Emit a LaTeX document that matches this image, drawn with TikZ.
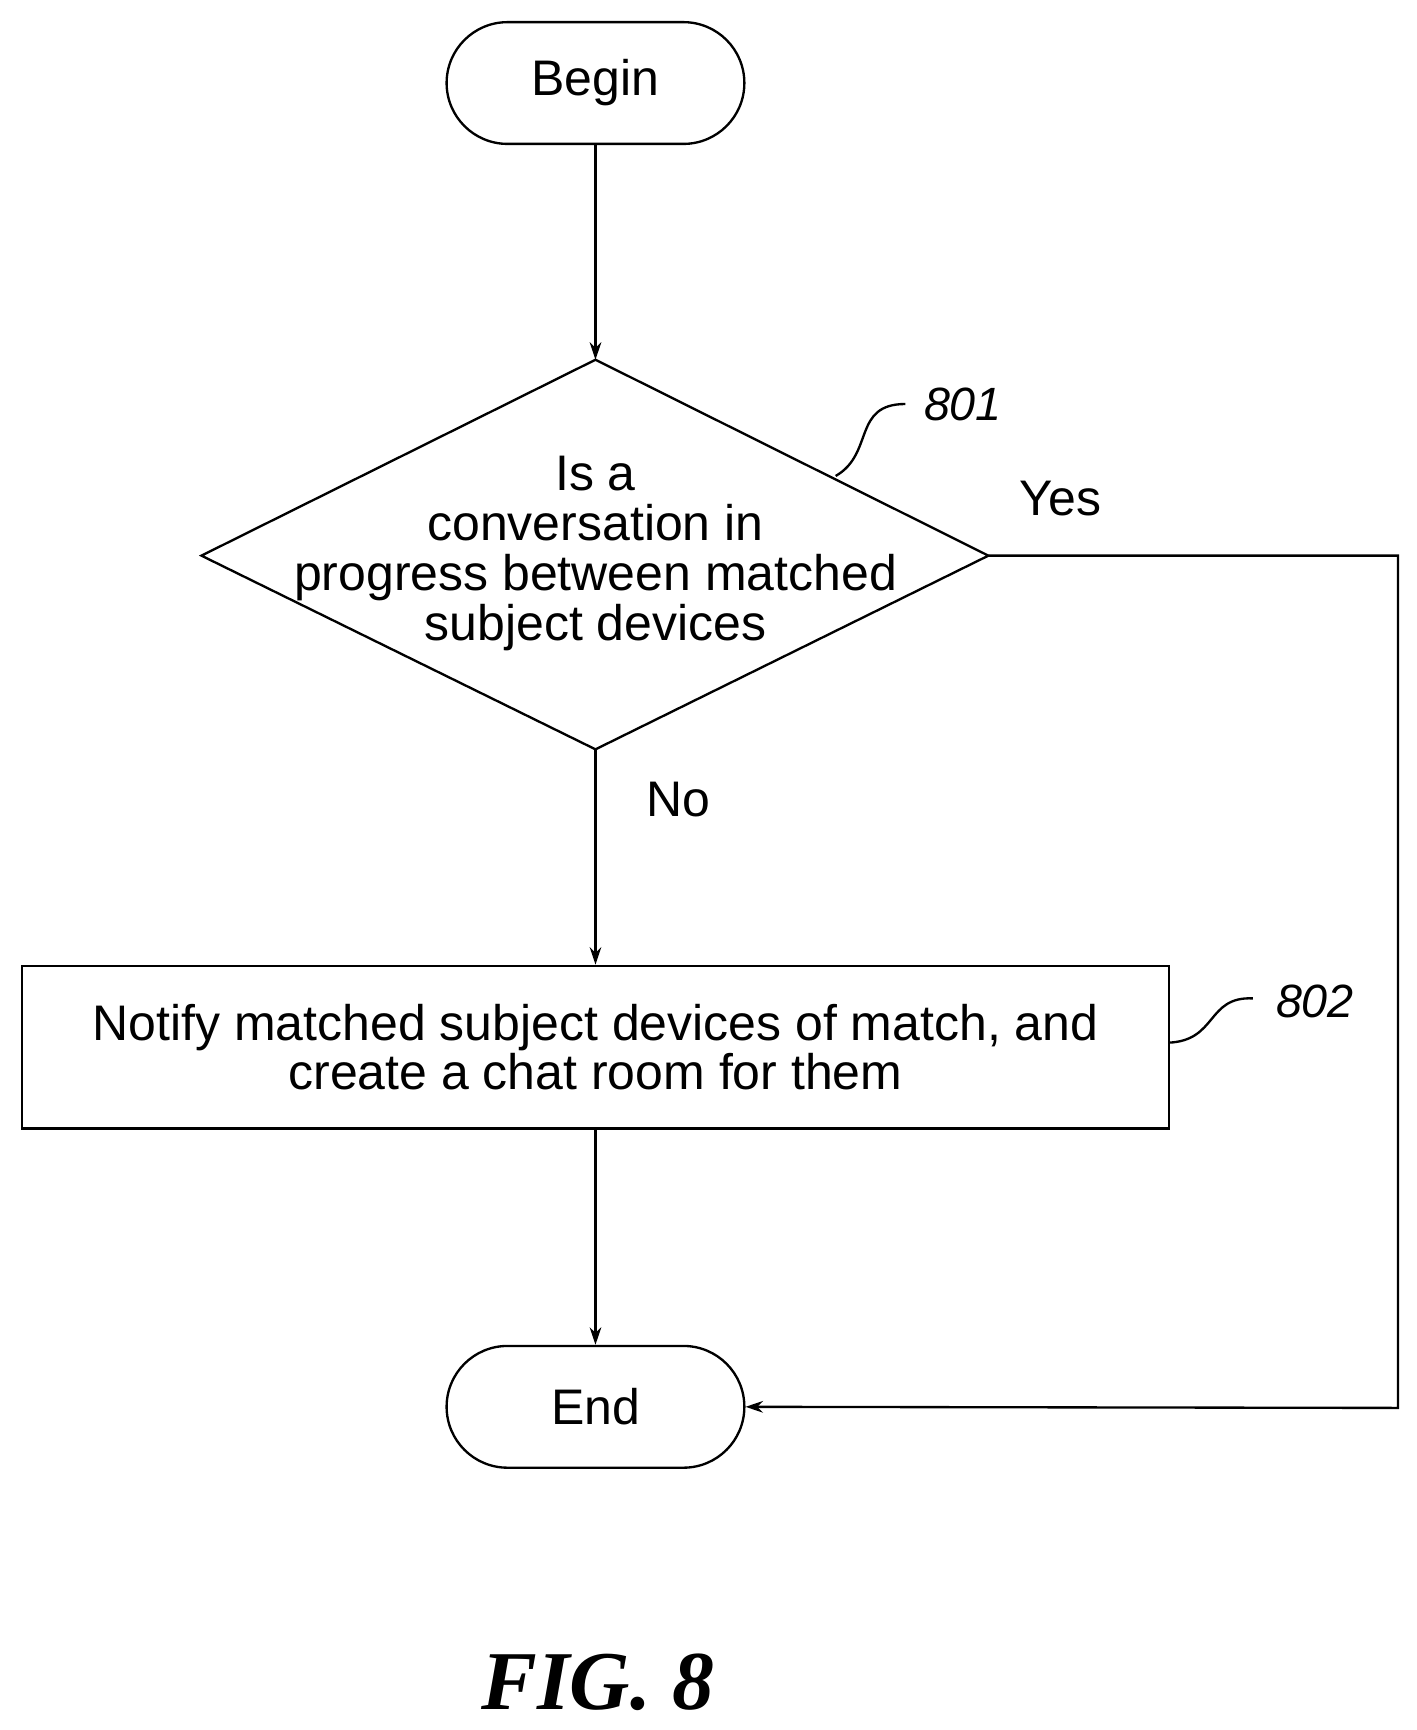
\documentclass[tikz,border=0pt]{standalone}
\usepackage{fontspec}
\setmainfont{Liberation Sans}
\newfontfamily\figfont{Liberation Serif}
\usetikzlibrary{arrows.meta}
\begin{document}
\begin{tikzpicture}[x=0.02cm,y=-0.02cm,
  every node/.style={font=\fontsize{25.7}{25.6}\selectfont, inner sep=0pt},
  term/.style={draw, line width=1.2pt, rounded corners=55*0.02cm, minimum width=269*0.02cm, minimum height=110*0.02cm},
  box/.style={draw, line width=1.2pt, minimum width=1036*0.02cm, minimum height=147*0.02cm, align=center},
  conn/.style={line width=1.2pt, -{Stealth[length=9pt,width=6pt]}},
  lead/.style={line width=1.2pt},
  ref/.style={font=\fontsize{24}{26}\selectfont\itshape}]
\useasboundingbox (0,0) rectangle (1280,1563);
\node[term] (begin) at (538,75) {Begin};
\coordinate (dt) at (538,325);
\coordinate (dl) at (182,502);
\coordinate (dr) at (893,502);
\coordinate (db) at (538,677);
\draw[line width=1.2pt] (dt) -- (dr) -- (db) -- (dl) -- cycle;
\node[align=center] (dtext) at (538,500) {Is a\\conversation in\\progress between matched\\subject devices};
\node[box] (notify) at (538,946) {Notify matched subject devices of match, and\\create a chat room for them};
\node[term] (end) at (538,1271) {End};
\node[ref] (r801) at (870,365) {801};
\node[ref] (r802) at (1188,905) {802};
\node (yes) at (958,450) {Yes};
\node (no) at (613,722) {No};
\coordinate (c1) at (1263,502);
\coordinate (c2) at (1263,1272);
\draw[conn] (begin) -- (dt);
\draw[conn] (db) -- (notify);
\draw[conn] (notify) -- (end);
\draw[conn] (dr) -- (c1) -- (c2) -- (end.east);
\draw[lead] (755,430) .. controls (790,410) and (770,365) .. (818,365);
\draw[lead] (1056,942) .. controls (1100,940) and (1090,900) .. (1132,902);
\node[font=\fontsize{43}{45}\selectfont\figfont\bfseries\itshape] (fig) at (540,1520) {FIG. 8};
\end{tikzpicture}
\end{document}
